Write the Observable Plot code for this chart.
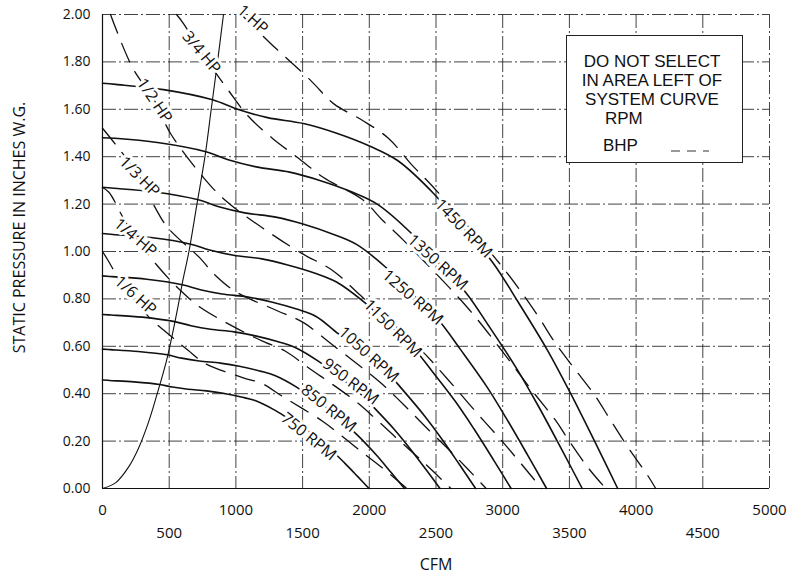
<!DOCTYPE html>
<html>
<head>
<meta charset="utf-8">
<script src="https://cdn.jsdelivr.net/npm/d3@7"></script>
<script src="https://cdn.jsdelivr.net/npm/@observablehq/plot@0.6"></script>
<style>
  body { margin: 0; background: #fff; }
  #wrap { position: relative; width: 795px; height: 574px; overflow: hidden; }
  #legend { position: absolute; left: 566px; top: 35px; width: 177px; height: 128px;
    border: 1px solid #222; background: #fff; box-sizing: border-box;
    font-family: "Liberation Sans", Arial, sans-serif; font-size: 17px; color: #111; }
  #legend .ln { position: absolute; left: 0; width: 170px; text-align: center; line-height: 20px; height: 20px; }
  #legend .key { position: absolute; line-height: 20px; height: 20px; }
  #legend svg { position: absolute; }
</style>
</head>
<body>
<div id="wrap">
  <div id="chart"></div>
  <div id="legend"></div>
</div>
<script>
// ---------- DATA (CFM, static pressure in inches W.G.) ----------
const rpm750  = [[0,0.458],[52,0.456],[236,0.45],[427,0.439],[523,0.428],[640,0.419],[779,0.412],[905,0.402],[1039,0.386],[1144,0.371],[1284,0.333],[1400,0.293],[1513,0.255],[1609,0.211],[1726,0.156],[1816,0.107],[1912,0.051],[1998,0]];
const rpm850  = [[0,0.588],[59,0.586],[268,0.578],[484,0.564],[593,0.55],[725,0.538],[883,0.529],[1026,0.516],[1178,0.496],[1296,0.476],[1455,0.428],[1587,0.376],[1714,0.327],[1824,0.271],[1956,0.2],[2058,0.138],[2167,0.065],[2264,0]];
const rpm950  = [[0,0.734],[66,0.732],[299,0.723],[541,0.704],[663,0.687],[810,0.672],[987,0.661],[1147,0.644],[1317,0.619],[1448,0.594],[1626,0.534],[1774,0.471],[1916,0.409],[2039,0.339],[2186,0.25],[2300,0.172],[2422,0.082],[2530,0]];
const rpm1050 = [[0,0.897],[72,0.894],[331,0.883],[597,0.86],[733,0.839],[896,0.821],[1091,0.808],[1267,0.787],[1455,0.757],[1601,0.726],[1768,0.653],[1960,0.575],[2118,0.5],[2254,0.414],[2416,0.305],[2542,0.21],[2677,0.1],[2797,0]];
const rpm1150 = [[0,1.076],[79,1.072],[362,1.059],[654,1.032],[803,1.006],[981,0.984],[1195,0.969],[1388,0.943],[1594,0.908],[1754,0.871],[1968,0.783],[2147,0.69],[2320,0.6],[2468,0.497],[2647,0.366],[2784,0.252],[2932,0.12],[3063,0]];
const rpm1250 = [[0,1.271],[86,1.267],[394,1.251],[711,1.219],[872,1.189],[1066,1.163],[1299,1.145],[1509,1.115],[1733,1.072],[1907,1.029],[2140,0.925],[2334,0.815],[2522,0.709],[2683,0.587],[2877,0.433],[3026,0.297],[3187,0.141],[3329,0]];
const rpm1350 = [[0,1.48],[93,1.478],[425,1.459],[768,1.422],[942,1.387],[1152,1.357],[1403,1.335],[1629,1.3],[1871,1.251],[2059,1.2],[2311,1.079],[2520,0.951],[2723,0.827],[2897,0.685],[3107,0.504],[3268,0.347],[3442,0.165],[3596,0]];
const rpm1450 = [[0,1.71],[100,1.705],[457,1.683],[825,1.64],[1012,1.6],[1237,1.565],[1507,1.54],[1750,1.5],[2010,1.443],[2212,1.384],[2482,1.245],[2707,1.097],[2925,0.954],[3112,0.79],[3337,0.582],[3510,0.4],[3697,0.19],[3862,0]];

const hp16 = [[0,1.0],[42,0.962],[156,0.854],[354,0.72],[525,0.637],[639,0.584],[772,0.527],[1050,0.468],[1196,0.443],[1342,0.391],[1655,0.282],[1795,0.221],[1944,0.154],[2097,0.087],[2282,0]];
const hp14 = [[0,1.27],[48,1.25],[179,1.119],[405,0.944],[601,0.827],[732,0.765],[992,0.68],[1191,0.624],[1369,0.58],[1536,0.513],[1895,0.369],[2055,0.29],[2225,0.202],[2400,0.114],[2612,0]];
const hp13 = [[0,1.52],[100,1.45],[277,1.316],[400,1.18],[490,1.1],[735,0.97],[832,0.907],[1000,0.83],[1310,0.75],[1507,0.7],[1690,0.621],[2085,0.446],[2262,0.351],[2449,0.245],[2642,0.138],[2876,0]];
const hp12 = [[60,2.0],[225,1.776],[390,1.637],[510,1.498],[757,1.312],[922,1.215],[1250,1.08],[1500,0.99],[1725,0.92],[1935,0.814],[2387,0.585],[2589,0.46],[2803,0.321],[3024,0.181],[3291,0]];
const hp34 = [[555,2.0],[607,1.962],[742,1.84],[945,1.679],[1087,1.574],[1275,1.477],[1462,1.397],[1657,1.312],[1949,1.219],[2099,1.132],[2255,1.048],[2732,0.766],[2964,0.603],[3209,0.421],[3397,0.287],[3487,0.21],[3637,0.09],[3772,0]];
const hp1  = [[1040,2.0],[1260,1.878],[1560,1.722],[1732,1.624],[1950,1.553],[2145,1.477],[2310,1.371],[2482,1.27],[3007,0.928],[3262,0.73],[3382,0.624],[3532,0.51],[3682,0.4],[3810,0.287],[3945,0.169],[4087,0.055],[4147,0]];

const systemCurve = [[0,0],[100,0.025],[195,0.09],[270,0.17],[345,0.28],[410,0.4],[480,0.54],[530,0.667],[570,0.78],[603,0.88],[648,1.0],[708,1.2],[768,1.4],[815,1.6],[862,1.8],[907,2.0]];

const rpmNames = ["750 RPM","850 RPM","950 RPM","1050 RPM","1150 RPM","1250 RPM","1350 RPM","1450 RPM"];
const rpmCurves = [rpm750, rpm850, rpm950, rpm1050, rpm1150, rpm1250, rpm1350, rpm1450];
const rpmLabelCfm = [1545, 1695, 1860, 1995, 2175, 2325, 2512, 2707];
const rpmLabelSp  = [0.219, 0.338, 0.451, 0.565, 0.675, 0.806, 0.954, 1.097];
const rpmLabelAngle = [39, 39, 37, 42, 45, 41, 42, 46];

const hpNames = ["1/6 HP","1/4 HP","1/3 HP","1/2 HP","3/4 HP","1 HP"];
const hpCurves = [hp16, hp14, hp13, hp12, hp34, hp1];
const hpLabelCfm = [247, 247, 277, 390, 742, 1125];
const hpLabelSp  = [0.814, 1.059, 1.316, 1.637, 1.84, 1.979];
const hpLabelAngle = [42, 40, 45, 56, 50, 42];

const xTicksUpper = [0, 1000, 2000, 3000, 4000, 5000];
const xTicksLower = [500, 1500, 2500, 3500, 4500];
const xGrid = [0,500,1000,1500,2000,2500,3000,3500,4000,4500,5000];
const yTicks = [0,0.2,0.4,0.6,0.8,1.0,1.2,1.4,1.6,1.8,2.0];
const xTitle = "CFM";
const yTitle = "STATIC PRESSURE IN INCHES W.G.";
const legendLines = ["DO NOT SELECT", "IN AREA LEFT OF", "SYSTEM CURVE"];
const legendKeys = ["RPM", "BHP"];

// ---------- build tables ----------
const toRows = (names, curves) => names.flatMap((n, i) => curves[i].map(([cfm, sp]) => ({series: n, cfm, sp})));
const rpmRows = toRows(rpmNames, rpmCurves);
const hpRows = toRows(hpNames, hpCurves);
const sysRows = systemCurve.map(([cfm, sp]) => ({cfm, sp}));
const rpmLabels = rpmNames.map((n, i) => ({label: n, cfm: rpmLabelCfm[i], sp: rpmLabelSp[i], angle: rpmLabelAngle[i]}));
const hpLabels = hpNames.map((n, i) => ({label: n, cfm: hpLabelCfm[i], sp: hpLabelSp[i], angle: hpLabelAngle[i]}));

const font = "'Open Sans', 'DejaVu Sans', sans-serif";
const ink = "#111";

const chart = Plot.plot({
  width: 795, height: 574,
  marginLeft: 102, marginRight: 26, marginTop: 14, marginBottom: 86,
  style: {background: "#fff", fontFamily: font, color: ink},
  x: {domain: [0, 5000], axis: null},
  y: {domain: [0, 2], axis: null},
  marks: [
    Plot.gridX(xGrid, {stroke: "#222", strokeOpacity: 0.85, strokeWidth: 1, strokeDasharray: "14,3,2,3"}),
    Plot.gridY(yTicks, {stroke: "#222", strokeOpacity: 0.85, strokeWidth: 1, strokeDasharray: "14,3,2,3"}),
    Plot.ruleX([0], {stroke: ink, strokeWidth: 1.2}),
    Plot.ruleY([0], {stroke: ink, strokeWidth: 1.2}),
    Plot.line(sysRows, {x: "cfm", y: "sp", stroke: ink, strokeWidth: 1.1, curve: "catmull-rom"}),
    Plot.line(hpRows, {x: "cfm", y: "sp", z: "series", stroke: ink, strokeWidth: 1.3, strokeDasharray: "20,11", curve: "catmull-rom"}),
    Plot.line(rpmRows, {x: "cfm", y: "sp", z: "series", stroke: ink, strokeWidth: 1.6, curve: "catmull-rom"}),
    Plot.text(rpmLabels, {x: "cfm", y: "sp", text: "label", rotate: "angle", fontSize: 16, fontFamily: font,
      fill: ink, stroke: "white", strokeWidth: 6, textAnchor: "middle", lineAnchor: "middle"}),
    Plot.text(hpLabels, {x: "cfm", y: "sp", text: "label", rotate: "angle", fontSize: 16, fontFamily: font,
      fill: ink, stroke: "white", strokeWidth: 6, textAnchor: "middle", lineAnchor: "middle"}),
    Plot.axisY(yTicks, {tickSize: 0, tickPadding: 12, tickFormat: d => d.toFixed(2), fontSize: 14, fontFamily: font, label: null, fill: ink}),
    Plot.text(xTicksUpper, {x: d => d, text: d => String(d), frameAnchor: "bottom", dy: 16, lineAnchor: "top", fontSize: 15, fontFamily: font, fill: ink}),
    Plot.text(xTicksLower, {x: d => d, text: d => String(d), frameAnchor: "bottom", dy: 39, lineAnchor: "top", fontSize: 15, fontFamily: font, fill: ink}),
    Plot.text([xTitle], {frameAnchor: "bottom", dy: 70, lineAnchor: "top", fontSize: 16, fontFamily: font, fill: ink}),
    Plot.text([yTitle], {frameAnchor: "left", dx: -83, dy: -24, rotate: -90, textAnchor: "middle", lineAnchor: "middle", fontSize: 16, fontFamily: font, fill: ink})
  ]
});
document.getElementById("chart").appendChild(chart);

// ---------- legend box ----------
const lg = document.getElementById("legend");
const lineTops = [16, 35, 54];
legendLines.forEach((t, i) => {
  const d = document.createElement("div");
  d.className = "ln"; d.style.top = lineTops[i] + "px"; d.textContent = t;
  lg.appendChild(d);
});
const keyPos = [[38, 73], [36, 100]];
legendKeys.forEach((t, i) => {
  const d = document.createElement("div");
  d.className = "key"; d.style.left = keyPos[i][0] + "px"; d.style.top = keyPos[i][1] + "px"; d.textContent = t;
  lg.appendChild(d);
});
const ns = "http://www.w3.org/2000/svg";
const s = document.createElementNS(ns, "svg");
s.setAttribute("width", 40); s.setAttribute("height", 6);
s.style.left = "104px"; s.style.top = "112px";
const l = document.createElementNS(ns, "line");
l.setAttribute("x1", 0); l.setAttribute("x2", 38); l.setAttribute("y1", 3); l.setAttribute("y2", 3);
l.setAttribute("stroke", "#333"); l.setAttribute("stroke-width", 1.2); l.setAttribute("stroke-dasharray", "9,7");
s.appendChild(l); lg.appendChild(s);
</script>
</body>
</html>
